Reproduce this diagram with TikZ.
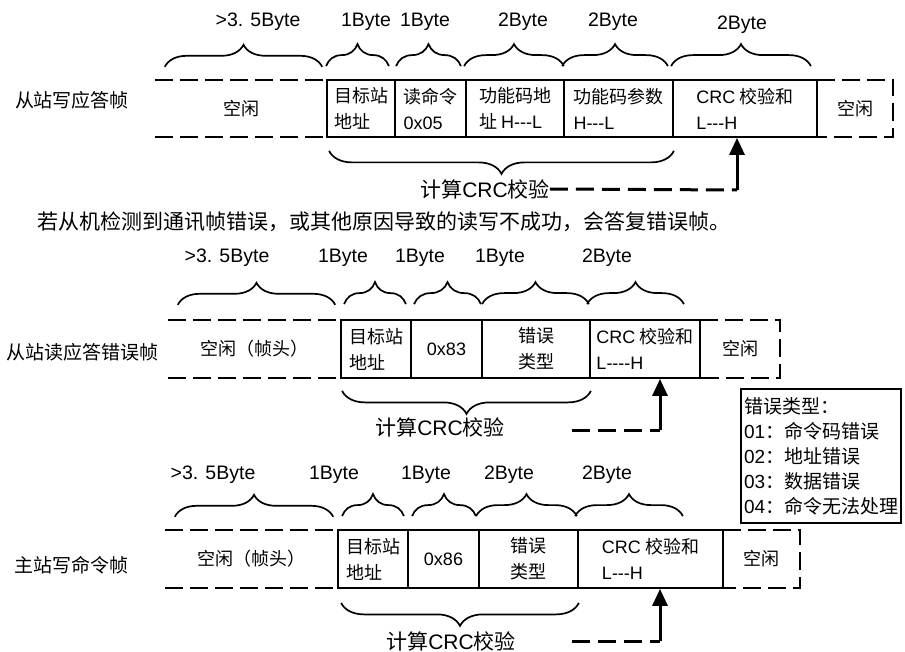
\documentclass[tikz,border=0pt]{standalone}
\usepackage{fontspec}
\setmainfont{Liberation Sans}
\newfontfamily\cjk{Noto Sans CJK SC}
\newfontfamily\lat{Liberation Sans}
\usetikzlibrary{decorations.pathreplacing,arrows.meta,calc}
\newcommand\cellfont{\fontsize{18}{26}\selectfont\cjk}
\begin{document}
\begin{tikzpicture}[x=1pt,y=-1pt,
  cell/.style={draw, line width=1.8pt, inner sep=0pt, align=left, font=\cellfont},
  cellc/.style={cell, align=center},
  idle/.style={inner sep=0pt, align=center, font=\cellfont},
  dline/.style={line width=2.5pt, dash pattern=on 18pt off 7pt},
  bracetop/.style={decorate, decoration={brace, amplitude=22pt}, line width=1.7pt},
  bracebot/.style={decorate, decoration={brace, mirror, amplitude=23pt}, line width=1.7pt},
  bytelbl/.style={font=\fontsize{19.5}{22}\selectfont, inner sep=0pt},
  calclbl/.style={font=\fontsize{21}{24}\selectfont\cjk, inner sep=0pt},
  framelbl/.style={font=\fontsize{19}{22}\selectfont\cjk, inner sep=0pt},
  conn/.style={line width=3pt, dash pattern=on 18pt off 8pt},
  uparrow/.style={line width=3pt, -{Triangle[width=15pt,length=17pt]}},
  legend/.style={draw, line width=2.2pt, anchor=north west, text width=154pt,
    minimum height=134pt, inner sep=3pt, align=left, font=\fontsize{19}{25}\selectfont\cjk}
]
\fill[white] (0,0) rectangle (905,652);
\useasboundingbox (0,0) rectangle (905,652);

% ================= Frame 1 =================
\node[framelbl] (f1lbl) at (72,100) {从站写应答帧};
\node[idle, minimum width=172pt, minimum height=57pt] (f1i) at (241,108.5) {空闲};
\node[cell, minimum width=68pt, minimum height=57pt] (f1a) at (361,108.5) {目标站\\地址};
\node[cell, minimum width=71pt, minimum height=57pt] (f1b) at (430.5,108.5) {读命令\\{\lat 0x05}};
\node[cell, minimum width=98pt, minimum height=57pt] (f1c) at (515,108.5) {功能码地\\址 {\lat H-{}-{}-L}};
\node[cell, minimum width=109pt, minimum height=57pt] (f1d) at (618.5,108.5) {功能码参数\\{\lat H-{}-{}-L}};
\node[cell, minimum width=144pt, minimum height=57pt] (f1e) at (745,108.5) {{\lat CRC} 校验和\\{\lat L-{}-{}-H}};
\node[idle, minimum width=76pt, minimum height=57pt] (f1r) at (855,108.5) {空闲};
\draw[dline] (f1i.north west) -- (f1i.north east) (f1i.south west) -- (f1i.south east);
\draw[dline] (f1r.north west) -- (f1r.north east) -- (f1r.south east) -- (f1r.south west);

\draw[bracetop] ([xshift=10pt,yshift=13pt]f1i.north west) -- ([xshift=-5pt,yshift=13pt]f1i.north east);
\draw[bracetop] ([xshift=0pt,yshift=13pt]f1a.north west) -- ([xshift=-7pt,yshift=13pt]f1a.north east);
\draw[bracetop] ([xshift=2pt,yshift=13pt]f1b.north west) -- ([xshift=-6pt,yshift=13pt]f1b.north east);
\draw[bracetop] ([xshift=-1pt,yshift=13pt]f1c.north west) -- ([xshift=-1pt,yshift=13pt]f1c.north east);
\draw[bracetop] ([xshift=-1pt,yshift=13pt]f1d.north west) -- ([xshift=-6pt,yshift=13pt]f1d.north east);
\draw[bracetop] ([xshift=-1pt,yshift=13pt]f1e.north west) -- ([xshift=-7pt,yshift=13pt]f1e.north east);

\node[bytelbl] (f1l1) at (258,22) {>3. 5Byte};
\node[bytelbl] (f1l2) at (366,22) {1Byte};
\node[bytelbl] (f1l3) at (425,22) {1Byte};
\node[bytelbl] (f1l4) at (523,22) {2Byte};
\node[bytelbl] (f1l5) at (613,22) {2Byte};
\node[bytelbl] (f1l6) at (742,25) {2Byte};

\draw[bracebot] ([xshift=3pt,yshift=-13pt]f1a.south west) -- ([yshift=-13pt]f1d.south east);
\node[calclbl] (f1calc) at (485,189) {计算{\lat CRC}校验};
\coordinate (f1k) at (737,190);
\draw[conn] (f1calc.east) -- (f1k);
\draw[uparrow] (f1k) -- (f1k |- f1e.south);

% ================= Title =================
\node[anchor=west, inner sep=0pt, font=\fontsize{21}{24}\selectfont\cjk] (title) at (37,222)
  {若从机检测到通讯帧错误，或其他原因导致的读写不成功，会答复错误帧。};

% ================= Frame 2 =================
\node[framelbl] (f2lbl) at (82,352) {从站读应答错误帧};
\node[idle, minimum width=173pt, minimum height=58pt] (f2i) at (254.5,349) {空闲（帧头）};
\node[cell, minimum width=70pt, minimum height=58pt] (f2a) at (376,349) {目标站\\地址};
\node[cell, minimum width=71pt, minimum height=58pt] (f2b) at (446.5,349) {{\lat 0x83}};
\node[cellc, minimum width=108pt, minimum height=58pt] (f2c) at (536,349) {错误\\类型};
\node[cell, minimum width=110pt, minimum height=58pt] (f2d) at (645,349) {{\lat CRC} 校验和\\{\lat L-{}-{}-{}-H}};
\node[idle, minimum width=80pt, minimum height=58pt] (f2r) at (740,349) {空闲};
\draw[dline] (f2i.north west) -- (f2i.north east) (f2i.south west) -- (f2i.south east);
\draw[dline] (f2r.north west) -- (f2r.north east) -- (f2r.south east) -- (f2r.south west);

\draw[bracetop] ([xshift=10pt,yshift=15pt]f2i.north west) -- ([xshift=-6pt,yshift=15pt]f2i.north east);
\draw[bracetop] ([xshift=4pt,yshift=15pt]f2a.north west) -- ([xshift=-6pt,yshift=15pt]f2a.north east);
\draw[bracetop] ([xshift=4pt,yshift=15pt]f2b.north west) -- ([xshift=-2pt,yshift=15pt]f2b.north east);
\draw[bracetop] ([xshift=1pt,yshift=15pt]f2c.north west) -- ([xshift=-2pt,yshift=15pt]f2c.north east);
\draw[bracetop] ([xshift=-2pt,yshift=15pt]f2d.north west) -- ([xshift=-17pt,yshift=15pt]f2d.north east);

\node[bytelbl] (f2l1) at (227,258) {>3. 5Byte};
\node[bytelbl] (f2l2) at (343,258) {1Byte};
\node[bytelbl] (f2l3) at (420,258) {1Byte};
\node[bytelbl] (f2l4) at (500,258) {1Byte};
\node[bytelbl] (f2l5) at (607,258) {2Byte};

\draw[bracebot] ([xshift=2pt,yshift=-12pt]f2a.south west) -- ([yshift=-12pt]f2c.south east);
\node[calclbl] (f2calc) at (440,427) {计算{\lat CRC}校验};
\coordinate (f2s) at (572,430);
\coordinate (f2k) at (660,430);
\draw[conn] (f2s) -- (f2k);
\draw[uparrow] (f2k) -- (f2k |- f2d.south);

% legend
\node[legend] (leg) at (740,388) {错误类型：\\{\lat 01}：命令码错误\\{\lat 02}：地址错误\\{\lat 03}：数据错误\\{\lat 04}：命令无法处理};

% ================= Frame 3 =================
\node[framelbl] (f3lbl) at (71,565) {主站写命令帧};
\node[idle, minimum width=173pt, minimum height=58pt] (f3i) at (251.5,559) {空闲（帧头）};
\node[cell, minimum width=70pt, minimum height=58pt] (f3a) at (373,559) {目标站\\地址};
\node[cell, minimum width=71pt, minimum height=58pt] (f3b) at (443.5,559) {{\lat 0x86}};
\node[cellc, minimum width=99pt, minimum height=58pt] (f3c) at (528.5,559) {错误\\类型};
\node[cell, minimum width=145pt, minimum height=58pt] (f3d) at (650.5,559) {{\lat CRC} 校验和\\{\lat L-{}-{}-H}};
\node[idle, minimum width=77pt, minimum height=58pt] (f3r) at (761.5,559) {空闲};
\draw[dline] (f3i.north west) -- (f3i.north east) (f3i.south west) -- (f3i.south east);
\draw[dline] (f3r.north west) -- (f3r.north east) -- (f3r.south east) -- (f3r.south west);

\draw[bracetop] ([xshift=10pt,yshift=13pt]f3i.north west) -- ([xshift=-5pt,yshift=13pt]f3i.north east);
\draw[bracetop] ([xshift=5pt,yshift=13pt]f3a.north west) -- ([xshift=-5pt,yshift=13pt]f3a.north east);
\draw[bracetop] ([xshift=5pt,yshift=13pt]f3b.north west) -- ([xshift=-4pt,yshift=13pt]f3b.north east);
\draw[bracetop] ([xshift=-2pt,yshift=13pt]f3c.north west) -- ([xshift=-2pt,yshift=13pt]f3c.north east);
\draw[bracetop] ([xshift=-2pt,yshift=13pt]f3d.north west) -- ([xshift=-41pt,yshift=13pt]f3d.north east);

\node[bytelbl] (f3l1) at (213,475) {>3. 5Byte};
\node[bytelbl] (f3l2) at (334,475) {1Byte};
\node[bytelbl] (f3l3) at (426,475) {1Byte};
\node[bytelbl] (f3l4) at (509,475) {2Byte};
\node[bytelbl] (f3l5) at (607,475) {2Byte};

\draw[bracebot] ([xshift=4pt,yshift=-14pt]f3a.south west) -- ([yshift=-14pt]f3c.south east);
\node[calclbl] (f3calc) at (451,641) {计算{\lat CRC}校验};
\coordinate (f3s) at (572,641);
\coordinate (f3k) at (660,641);
\draw[conn] (f3s) -- (f3k);
\draw[uparrow] (f3k) -- (f3k |- f3d.south);
\end{tikzpicture}
\end{document}
